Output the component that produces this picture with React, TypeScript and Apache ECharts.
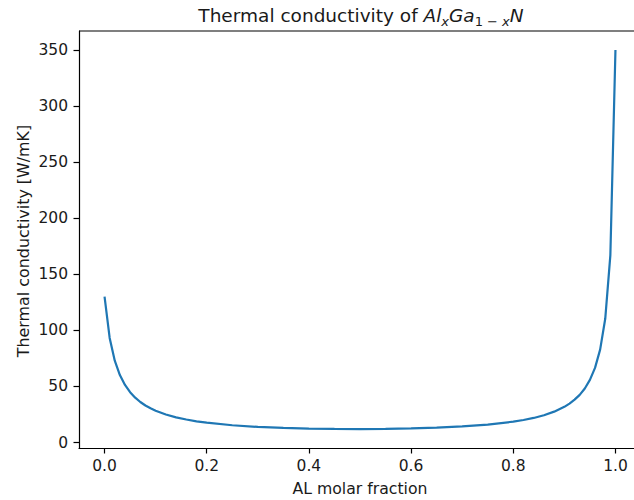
import React, { useEffect, useRef } from "react";
import * as echarts from "echarts";

const xValues = [
  0.0, 0.01, 0.02, 0.03, 0.04, 0.05, 0.06, 0.07, 0.08, 0.09, 0.1, 0.12, 0.14, 0.16, 0.18, 0.2,
  0.25, 0.3, 0.35, 0.4, 0.45, 0.5, 0.55, 0.6, 0.65, 0.7, 0.75, 0.8, 0.82, 0.84, 0.86, 0.88,
  0.9, 0.91, 0.92, 0.93, 0.94, 0.95, 0.96, 0.97, 0.98, 0.99, 1.0,
];
const kValues = [
  130, 93.2, 72.9, 60.1, 51.3, 44.9, 40.0, 36.1, 33.0, 30.5, 28.3, 25.0, 22.4, 20.5, 18.9, 17.65,
  15.4, 13.9, 13.0, 12.4, 12.09, 12.0, 12.16, 12.55, 13.24, 14.32, 15.98, 18.6, 20.1, 21.9, 24.3, 27.5,
  31.8, 34.7, 38.2, 42.5, 48.2, 55.8, 66.5, 82.8, 110.3, 166.8, 350,
];
const xTicks = [0.0, 0.2, 0.4, 0.6, 0.8, 1.0];
const yTicks = [0, 50, 100, 150, 200, 250, 300, 350];

const FONT = "DejaVu Sans";
const INK = "#1a1a1a";

export default function App() {
  const ref = useRef<HTMLDivElement>(null);
  useEffect(() => {
    const chart = echarts.init(ref.current!, null, { renderer: "svg" });
    const data = xValues.map((x, i) => [x, kValues[i]]);
    const base = { fontFamily: FONT, color: INK, fontWeight: "normal" as const };
    chart.setOption({
      animation: false,
      backgroundColor: "#ffffff",
      grid: {
        left: 79,
        top: 31,
        width: 562,
        height: 417,
        containLabel: false,
        outerBoundsMode: "none",
      },
      title: {
        text: "{n|Thermal conductivity of }{i|Al}{si|x}{i|Ga}{s|1 − }{si|x}{i|N}",
        left: 356,
        top: -3,
        textAlign: "center",
        textStyle: {
          fontWeight: "normal",
          rich: {
            n: { ...base, fontSize: 18.5, lineHeight: 26, verticalAlign: "middle" },
            i: { ...base, fontSize: 18.5, fontStyle: "italic", lineHeight: 26, verticalAlign: "middle" },
            s: { ...base, fontSize: 13, lineHeight: 15, verticalAlign: "bottom" },
            si: { ...base, fontSize: 13, fontStyle: "italic", lineHeight: 15, verticalAlign: "bottom" },
          },
        },
      },
      xAxis: {
        type: "value",
        min: -0.05,
        max: 1.05,
        splitLine: { show: false },
        axisLine: { show: true, onZero: false, lineStyle: { color: "#000", width: 1.2 } },
        axisTick: { show: true, length: 5.5, lineStyle: { color: "#000", width: 1.2 }, customValues: xTicks },
        axisLabel: {
          customValues: xTicks,
          formatter: (v: number) => v.toFixed(1),
          fontFamily: FONT,
          fontSize: 15.5,
          color: INK,
          margin: 10,
        },
      },
      yAxis: {
        type: "value",
        min: -4.9,
        max: 366.9,
        splitLine: { show: false },
        axisLine: { show: true, onZero: false, lineStyle: { color: "#000", width: 1.2 } },
        axisTick: { show: true, length: 5.5, lineStyle: { color: "#000", width: 1.2 }, customValues: yTicks },
        axisLabel: {
          customValues: yTicks,
          formatter: (v: number) => String(v),
          fontFamily: FONT,
          fontSize: 15.5,
          color: INK,
          margin: 11,
        },
      },
      graphic: [
        {
          type: "line",
          shape: { x1: 79, y1: 31, x2: 641, y2: 31 },
          style: { stroke: "#000", lineWidth: 1.2 },
          silent: true,
        },
        {
          type: "text",
          x: 360,
          y: 488,
          style: {
            text: "AL molar fraction",
            fontFamily: FONT,
            fontSize: 15.7,
            fill: INK,
            align: "center",
            verticalAlign: "middle",
          },
        },
        {
          type: "text",
          x: 23,
          y: 241,
          rotation: Math.PI / 2,
          style: {
            text: "Thermal conductivity [W/mK]",
            fontFamily: FONT,
            fontSize: 15.9,
            fill: INK,
            align: "center",
            verticalAlign: "middle",
          },
        },
      ],
      series: [
        {
          type: "line",
          data,
          showSymbol: false,
          symbol: "none",
          smooth: false,
          clip: false,
          lineStyle: { color: "#1f77b4", width: 2.2 },
        },
      ],
    });
    return () => chart.dispose();
  }, []);
  return <div ref={ref} style={{ width: 634, height: 500, position: "absolute", left: 0, top: 0 }} />;
}
